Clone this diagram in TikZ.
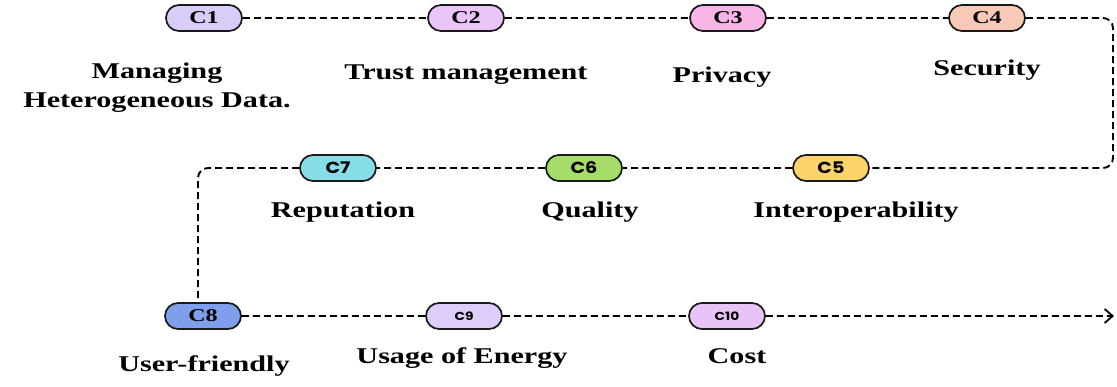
\documentclass[tikz,border=0pt]{standalone}
\usepackage{fontspec}
\setmainfont[FakeStretch=1.34]{Liberation Serif}
\newfontfamily\pillsans[FakeStretch=1.2]{Poppins}
\usetikzlibrary{shapes.misc,arrows.meta}

\definecolor{cone}{HTML}{D9CCF8}
\definecolor{ctwo}{HTML}{EBC4F7}
\definecolor{cthree}{HTML}{F7B5E6}
\definecolor{cfour}{HTML}{F9C9B8}
\definecolor{cfive}{HTML}{FDD46B}
\definecolor{csix}{HTML}{A6DC6A}
\definecolor{cseven}{HTML}{86DDE8}
\definecolor{ceight}{HTML}{7F9EEB}
\definecolor{cnine}{HTML}{DCCDF9}
\definecolor{cten}{HTML}{E8C3F8}

\tikzset{
	pill/.style = {rounded rectangle, draw = black!90, line width = 1.7pt,
		minimum width = 76pt, minimum height = 26pt, inner sep = 0pt,
		font = \fontsize{18}{18}\selectfont\bfseries},
	pillsf/.style = {pill, font = \pillsans\fontsize{16}{16}\selectfont\bfseries},
	pillsm/.style = {pill, font = \pillsans\fontsize{11.5}{11.5}\selectfont\bfseries},
	label/.style = {anchor = base, align = center,
		font = \fontsize{22.5}{29}\selectfont\bfseries},
	link/.style = {line width = 1.9pt, dash pattern = on 7pt off 4pt}
}

\begin{document}
\begin{tikzpicture}[x = 1pt, y = -1pt]
	\useasboundingbox (0,0) rectangle (1117,387);

	% first row
	\node [pill, fill = cone]   (c1) at (204,18) {C1};
	\node [pill, fill = ctwo]   (c2) at (466,18) {C2};
	\node [pill, fill = cthree] (c3) at (728,18) {C3};
	\node [pill, fill = cfour]  (c4) at (987,18) {C4};
	% second row, right to left
	\node [pillsf, fill = cfive]  (c5) at (831,168) {C5};
	\node [pillsf, fill = csix]   (c6) at (584,168) {C6};
	\node [pillsf, fill = cseven] (c7) at (338,168) {C7};
	% third row
	\node [pill, fill = ceight] (c8)  at (203,316) {C8};
	\node [pillsm, fill = cnine] (c9)  at (464,316) {C9};
	\node [pillsm, fill = cten]  (c10) at (727,316) {C10};

	\coordinate (turnr) at (1113,0);
	\coordinate (turnl) at (198,0);
	\coordinate (tail) at (1114,316);

	\draw [link] (c1) -- (c2) -- (c3) -- (c4);
	\draw [link, rounded corners = 10pt] (c4) -- (c4 -| turnr) -- (c5 -| turnr) -- (c5);
	\draw [link] (c5) -- (c6) -- (c7);
	\draw [link, rounded corners = 10pt] (c7) -- (c7 -| turnl) -- (c8.north -| turnl);
	\draw [link] (c8) -- (c9) -- (c10);
	\draw [link, -{Straight Barb[length = 8pt, width = 14pt, line width = 1.8pt, sep = 0pt]}] (c10) -- (tail);

	% names under the steps
	\node [label] (l1)  at (157,108) {Managing\\Heterogeneous Data.};
	\node [label] (l2)  at (466,80)  {Trust management};
	\node [label] (l3)  at (722,83)  {Privacy};
	\node [label] (l4)  at (987,76)  {Security};
	\node [label] (l5)  at (856,218) {Interoperability};
	\node [label] (l6)  at (590,218) {Quality};
	\node [label] (l7)  at (343,218) {Reputation};
	\node [label] (l8)  at (204,372) {User-friendly};
	\node [label] (l9)  at (462,364) {Usage of Energy};
	\node [label] (l10) at (737,364) {Cost};
\end{tikzpicture}
\end{document}
